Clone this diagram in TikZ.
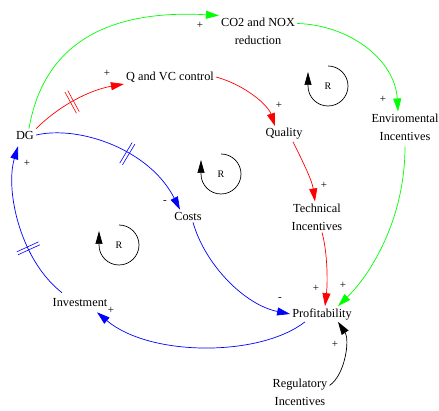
\documentclass[tikz,border=0pt]{standalone}
\usepackage{fontspec}
\setmainfont{Liberation Serif}
\newfontfamily\lserif{Liberation Serif}
\usetikzlibrary{arrows.meta,decorations.markings}
\definecolor{cgreen}{RGB}{0,255,0}
\definecolor{cred}{RGB}{255,0,0}
\definecolor{cblue}{RGB}{0,0,255}
\begin{document}
\begin{tikzpicture}[x=1pt,y=-1pt,
  var/.style={font=\lserif\fontsize{12.3}{18}\selectfont, inner sep=2pt, align=center},
  sign/.style={font=\lserif\fontsize{11}{12}\selectfont, inner sep=0pt},
  lnk/.style={line width=0.7pt, -{Triangle[length=13pt,width=8pt]}},
  rloop/.style={line width=0.7pt, black, -{Triangle[length=13pt,width=7pt]}},
  rlab/.style={font=\lserif\fontsize{10}{12}\selectfont, inner sep=0pt},
  hash/.style={postaction={decorate}, decoration={markings,
    mark=at position #1 with {\draw[line width=0.6pt,-] (-1.6pt,-12pt)--(-1.6pt,12pt) (1.6pt,-12pt)--(1.6pt,12pt);}}}]
\useasboundingbox (0,0) rectangle (439,411);

% variables
\node[var] (DG) at (25,135) {DG};
\node[var] (QVC) at (170,77) {Q and VC control};
\node[var] (CO2) at (258,31) {CO2 and NOX\\reduction};
\node[var] (Qual) at (284,134) {Quality};
\node[var] (Env) at (405,127) {Enviromental\\Incentives};
\node[var] (Tech) at (317,217) {Technical\\Incentives};
\node[var] (Cost) at (188,216) {Costs};
\node[var] (Inv) at (80,303) {Investment};
\node[var] (Prof) at (322,314) {Profitability};
\node[var] (Reg) at (300,392) {Regulatory\\Incentives};

% green links
\draw[lnk, color=cgreen] ([xshift=4pt]DG.north) .. controls (45,35) and (120,10) .. (CO2.north west);
\draw[lnk, color=cgreen] ([yshift=-8pt]CO2.north east) .. controls (350,25) and (395,60) .. ([xshift=-7pt]Env.north);
\draw[lnk, color=cgreen] ([yshift=-4pt]Env.south) .. controls (405,220) and (370,275) .. ([xshift=16pt]Prof.north);

% red links
\draw[lnk, color=cred, hash=0.45] (DG.north east) .. controls (60,105) and (90,90) .. ([yshift=-7pt]QVC.west);
\draw[lnk, color=cred] (QVC.east) .. controls (245,85) and (268,105) .. ([xshift=-9pt]Qual.north);
\draw[lnk, color=cred] ([xshift=9pt]Qual.south) .. controls (302,160) and (312,180) .. ([xshift=-2pt]Tech.north);
\draw[lnk, color=cred] ([xshift=5pt]Tech.south) .. controls (327,250) and (328,280) .. ([xshift=3pt]Prof.north);

% blue links
\draw[lnk, color=cblue, hash=0.55] (DG.east) .. controls (80,125) and (150,150) .. ([xshift=-8pt]Cost.north);
\draw[lnk, color=cblue] ([xshift=5pt]Cost.south) .. controls (205,265) and (245,305) .. (Prof.west);
\draw[lnk, color=cblue] ([xshift=-17pt]Prof.south) .. controls (260,357) and (150,357) .. ([xshift=17pt,yshift=-3pt]Inv.south);
\draw[lnk, color=cblue, hash=0.35] ([xshift=-18pt,yshift=4pt]Inv.north) .. controls (20,260) and (5,190) .. ([xshift=-7pt,yshift=-5pt]DG.south);

% black link
\draw[lnk, color=black] ([yshift=-9pt]Reg.north east) .. controls (345,375) and (350,340) .. ([xshift=16pt]Prof.south);

% polarity signs
\node[sign] (s1) at (200,25) {+};
\node[sign] (s2) at (383,99) {+};
\node[sign] (s3) at (343,285) {+};
\node[sign] (s4) at (107,73) {+};
\node[sign] (s5) at (279,105) {+};
\node[sign] (s6) at (324,185) {+};
\node[sign] (s7) at (316,288) {+};
\node[sign] (s8) at (165,202) {-};
\node[sign] (s9) at (280,299) {-};
\node[sign] (s10) at (111,310) {+};
\node[sign] (s11) at (27,163) {+};
\node[sign] (s12) at (335,344) {+};

% loop markers
\draw[rloop] (328,66) arc[start angle=-90,end angle=180,radius=20] -- ++(0,-14);
\node[rlab] (R1) at (328,86) {R};
\draw[rloop] (221,154) arc[start angle=-90,end angle=180,radius=20] -- ++(0,-14);
\node[rlab] (R2) at (221,174) {R};
\draw[rloop] (119,225) arc[start angle=-90,end angle=180,radius=20] -- ++(0,-14);
\node[rlab] (R3) at (119,245) {R};
\end{tikzpicture}
\end{document}
